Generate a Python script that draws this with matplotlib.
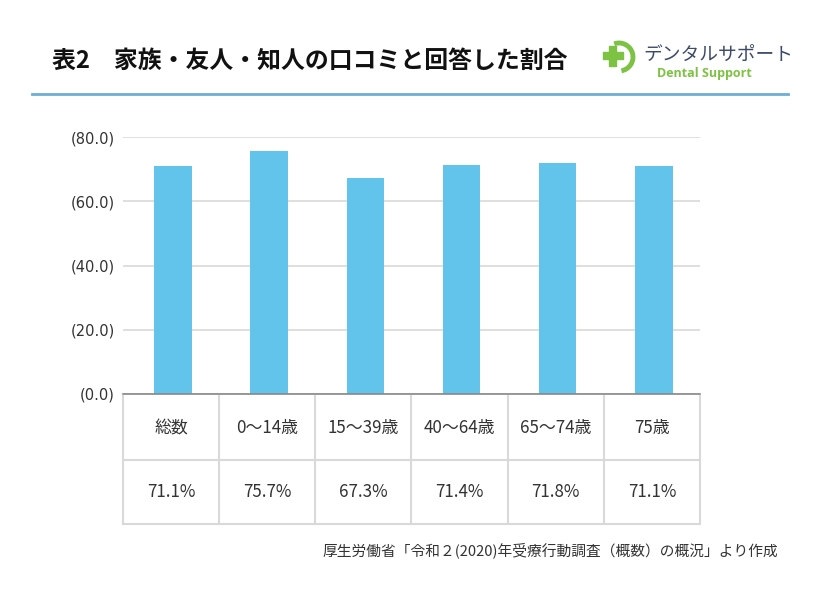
import matplotlib.pyplot as plt
from matplotlib.patches import Rectangle, Arc

plt.rcParams['font.family'] = ['Noto Sans CJK JP', 'DejaVu Sans']

# data
categories = ['総数', '0〜14歳', '15〜39歳', '40〜64歳', '65〜74歳', '75歳']
values = [71.1, 75.7, 67.3, 71.4, 71.8, 71.1]
value_labels = ['71.1%', '75.7%', '67.3%', '71.4%', '71.8%', '71.1%']
yticks = [0, 20, 40, 60, 80]
ytick_labels = ['(0.0)', '(20.0)', '(40.0)', '(60.0)', '(80.0)']

BAR = '#63c4eb'
GRID = '#d9d9d9'
TXT = '#333333'

fig = plt.figure(figsize=(8.2, 6), dpi=100)

# title + blue rule
fig.text(52 / 820, 1 - 61 / 600, '表2　家族・友人・知人の口コミと回答した割合',
         fontsize=17.2, fontweight='bold', color='#111111', va='center', ha='left')
fig.add_artist(plt.Line2D([32 / 820, 788 / 820], [1 - 94 / 600] * 2,
                          color='#6aaed6', lw=2))

# logo
logo = fig.add_axes([0, 0, 1, 1], zorder=-1)
logo.set_xlim(0, 820)
logo.set_ylim(600, 0)
logo.axis('off')
logo.add_patch(Rectangle((603, 52), 20, 7, color='#7dc242'))
logo.add_patch(Rectangle((609.5, 45.5), 7, 20, color='#7dc242'))
logo.add_patch(Arc((619, 57), 28, 28, theta1=-110, theta2=80, color='#7dc242', lw=3.5))
logo.text(643, 55, 'デンタルサポート', fontsize=13.5, color='#3e4b68', va='center', ha='left')
logo.text(657, 73, 'Dental Support', fontsize=9, color='#7dc242', fontweight='bold',
          va='center', ha='left', family=['Open Sans', 'DejaVu Sans'])

# bar chart
ax = fig.add_axes([123 / 820, 1 - 394 / 600, 577 / 820, 257 / 600])
x = range(len(categories))
ax.bar([i + 0.02 for i in x], values, width=0.39, color=BAR, zorder=3)
ax.set_xlim(-0.5, len(categories) - 0.5)
ax.set_ylim(0, 80)
ax.set_yticks(yticks)
ax.set_yticklabels(ytick_labels, fontsize=10.5, color=TXT, family=['DejaVu Sans'])
ax.set_xticks([])
ax.grid(axis='y', color=GRID, lw=1.2, zorder=0)
ax.tick_params(axis='y', length=0, pad=6)
for s in ['top', 'right', 'left']:
    ax.spines[s].set_visible(False)
ax.spines['bottom'].set_color('#888888')
ax.spines['bottom'].set_linewidth(1.2)
ax.spines['bottom'].set_zorder(4)

# table below chart
tab = fig.add_axes([123 / 820, 1 - 524 / 600, 577 / 820, 128 / 600])
tab.set_xlim(0, len(categories))
tab.set_ylim(0, 2)
tab.axis('off')
for i in range(len(categories) + 1):
    tab.plot([i, i], [0, 2], color=GRID, lw=1.5, clip_on=False)
for j in [0, 1]:
    tab.plot([0, len(categories)], [j, j], color=GRID, lw=1.5, clip_on=False)
for i, (c, v) in enumerate(zip(categories, value_labels)):
    tab.text(i + 0.5, 1.5, c, ha='center', va='center', fontsize=12.2, color=TXT)
    tab.text(i + 0.5, 0.5, v, ha='center', va='center', fontsize=12.2, color=TXT)

fig.text(778 / 820, 1 - 550 / 600, '厚生労働省「令和２(2020)年受療行動調査（概数）の概況」より作成',
         fontsize=10.6, color=TXT, ha='right', va='center')

fig.savefig('out.png', dpi=100)
